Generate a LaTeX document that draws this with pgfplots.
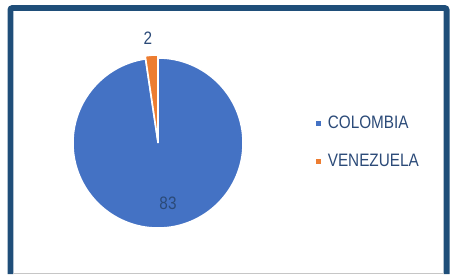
\documentclass[border=0pt]{standalone}
\usepackage{pgfplots}
\pgfplotsset{compat=1.18}
\usepackage{pgfplotstable}
\usepackage{fontspec}
\setmainfont{Liberation Sans}[FakeStretch=0.85]
\definecolor{pieblue}{HTML}{4472C4}
\definecolor{pieorange}{HTML}{ED7D31}
\definecolor{framec}{HTML}{1F4E79}
\definecolor{lbl}{HTML}{2B4A78}

\pgfplotstableread{
country value
COLOMBIA 83
VENEZUELA 2
}\piedata

\begin{document}
\begin{tikzpicture}
\pgfplotstablegetelem{0}{value}\of\piedata \let\vA\pgfplotsretval
\pgfplotstablegetelem{1}{value}\of\piedata \let\vB\pgfplotsretval
\pgfmathsetmacro\tot{\vA+\vB}
\pgfmathsetmacro\fA{\vA/\tot}
\pgfmathsetmacro\fB{\vB/\tot}
\pgfmathsetmacro\aEnd{90-360*\fA}
\pgfmathsetmacro\bEnd{\aEnd-360*\fB}
\pgfmathsetmacro\bMid{\aEnd-180*\fB}
\begin{axis}[
  scale only axis, width=457pt, height=274pt,
  xmin=0, xmax=457, ymin=0, ymax=274,
  axis lines=none, clip=false,
  legend style={draw=none, fill=none, font=\fontsize{18}{20}\selectfont, text=lbl,
    at={(axis cs:316,160)}, anchor=north west, row sep=20pt,
    legend cell align=left, inner sep=0pt,
    /tikz/every odd column/.append style={column sep=5pt}},
  legend image code/.code={\fill[#1, draw=none] (0pt,-2.3pt) rectangle (4.6pt,2.3pt);},
]
% frame
\draw[framec, line width=5.8pt, rounded corners=2pt] (axis cs:10.4,0) -- (axis cs:10.4,266) -- (axis cs:446.6,266) -- (axis cs:446.6,0);
\draw[gray!45, line width=1pt] (axis cs:13.3,0.8) -- (axis cs:443.7,0.8);
% pie slices from table values
\fill[pieblue, draw=white, line width=1.5pt]
  (axis cs:158,131) -- ++(90:85pt) arc[start angle=90, end angle=\aEnd, radius=85pt] -- cycle;
\fill[pieorange, draw=white, line width=1.5pt, shift={(\bMid:3pt)}]
  (axis cs:158,131) -- ++(\aEnd:85pt) arc[start angle=\aEnd, end angle=\bEnd, radius=85pt] -- cycle;
% data labels
\node[text=lbl, font=\fontsize{18}{20}\selectfont] at (axis cs:168,70.5) {83};
\node[text=lbl, font=\fontsize{18}{20}\selectfont] at (axis cs:148,236) {2};
\addlegendimage{fill=pieblue}
\addlegendimage{fill=pieorange}
\legend{COLOMBIA, VENEZUELA}
\end{axis}
\path (0,0) rectangle (457pt,274pt);
\end{tikzpicture}
\end{document}
